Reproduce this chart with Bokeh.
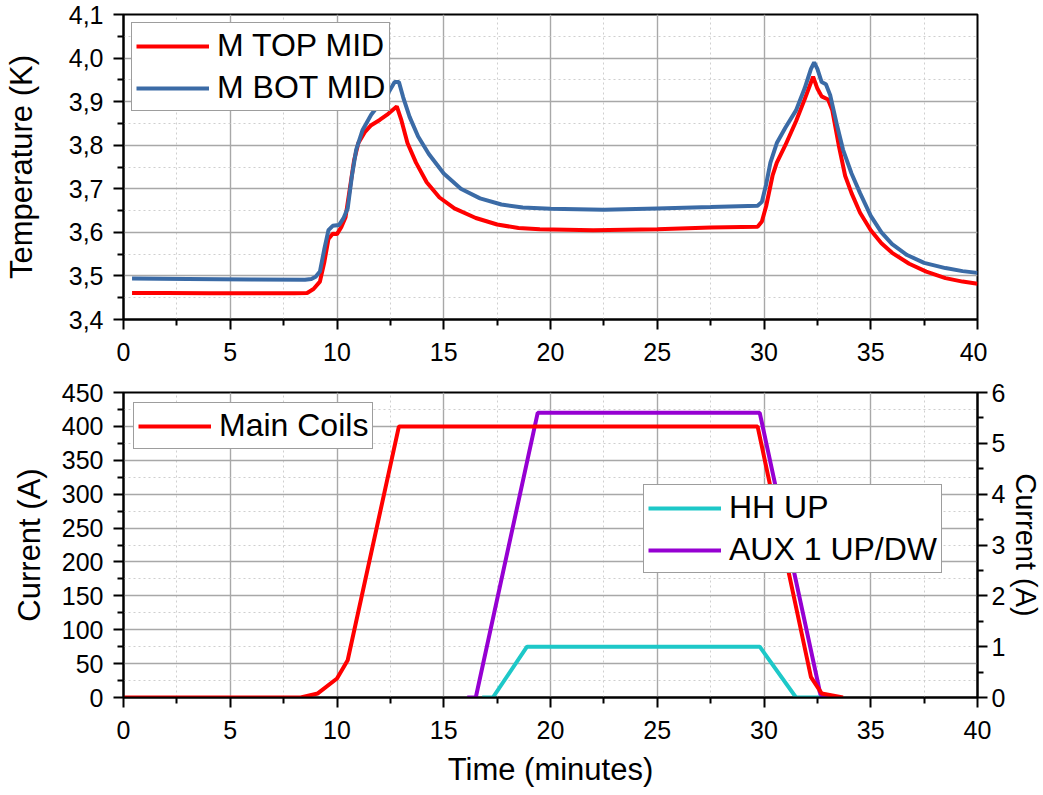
from bokeh.plotting import figure
from bokeh.models import (Range1d, LinearAxis, FixedTicker, CustomJSTickFormatter,
                          Legend, LegendItem)
from bokeh.layouts import column
from bokeh.embed import file_html
from bokeh.resources import INLINE

FONT = "Liberation Sans"

# ---------------- data ----------------
# Top panel: temperatures (K) vs time (minutes)
top_mid_time = [0.4, 2, 4, 6, 8, 8.6, 8.9, 9.2, 9.4, 9.6, 9.8, 10.0, 10.2, 10.4, 10.6, 10.8,
                11.0, 11.3, 11.6, 12.0, 12.4, 12.8, 13.0, 13.3, 13.7, 14.2, 14.8, 15.5,
                16.5, 17.5, 18.5, 19.5, 22, 25, 27.5, 29.7, 29.9, 30.1, 30.4, 30.6, 31.0,
                31.5, 31.9, 32.3, 32.5, 32.7, 33.0, 33.2, 33.5, 33.8, 34.1, 34.5, 35.0,
                35.5, 36.0, 36.8, 37.6, 38.5, 39.3, 40]
top_mid_temp = [3.461, 3.461, 3.460, 3.460, 3.460, 3.461, 3.470, 3.487, 3.53, 3.585, 3.597,
                3.596, 3.612, 3.635, 3.70, 3.765, 3.805, 3.830, 3.846, 3.858, 3.872, 3.889,
                3.860, 3.805, 3.76, 3.715, 3.68, 3.655, 3.633, 3.618, 3.610, 3.607, 3.605,
                3.607, 3.611, 3.613, 3.625, 3.66, 3.73, 3.76, 3.80, 3.855, 3.905, 3.957,
                3.93, 3.912, 3.905, 3.88, 3.80, 3.73, 3.69, 3.645, 3.605, 3.575, 3.553,
                3.528, 3.510, 3.495, 3.487, 3.482]

bot_mid_time = [0.4, 3, 6, 8.5, 8.8, 9.0, 9.2, 9.4, 9.6, 9.8, 10.1, 10.3, 10.5, 10.7, 10.9,
                11.2, 11.6, 12.0, 12.4, 12.7, 12.9, 13.1, 13.4, 13.8, 14.3, 15.0, 15.8,
                16.7, 17.7, 18.7, 20, 22.5, 25, 27.5, 29.7, 29.9, 30.1, 30.3, 30.6, 31.0,
                31.5, 31.9, 32.2, 32.35, 32.5, 32.7, 32.9, 33.1, 33.4, 33.7, 34.1, 34.5,
                35.0, 35.5, 36.0, 36.7, 37.5, 38.5, 39.3, 40]
bot_mid_temp = [3.494, 3.493, 3.492, 3.491, 3.493, 3.498, 3.51, 3.56, 3.605, 3.615, 3.617,
                3.632, 3.655, 3.73, 3.79, 3.835, 3.87, 3.895, 3.92, 3.945, 3.945, 3.91,
                3.865, 3.82, 3.78, 3.735, 3.70, 3.678, 3.664, 3.657, 3.654, 3.652, 3.655,
                3.658, 3.661, 3.67, 3.71, 3.76, 3.805, 3.84, 3.88, 3.93, 3.975, 3.99,
                3.975, 3.945, 3.94, 3.915, 3.85, 3.79, 3.735, 3.69, 3.638, 3.60, 3.573,
                3.548, 3.530, 3.518, 3.511, 3.507]

# Bottom panel: currents
coil_time = [0, 8.3, 9.1, 10.0, 10.5, 12.9, 29.7, 32.2, 32.7, 33.7]
coil_current = [0, 0, 6, 28, 55, 400, 400, 30, 6, 0]

hh_time = [16.8, 17.3, 18.9, 29.8, 31.5, 32.6]
hh_current = [0, 0, 1.0, 1.0, 0, 0]

aux_time = [16.1, 16.5, 19.4, 29.8, 32.65, 33.0]
aux_current = [0, 0, 5.6, 5.6, 0.05, 0]

# ticks
x_major = [0, 5, 10, 15, 20, 25, 30, 35, 40]
x_minor = [2.5, 7.5, 12.5, 17.5, 22.5, 27.5, 32.5, 37.5]
t_major = [3.4, 3.5, 3.6, 3.7, 3.8, 3.9, 4.0, 4.1]
t_minor = [3.45, 3.55, 3.65, 3.75, 3.85, 3.95, 4.05]
a_major = [0, 50, 100, 150, 200, 250, 300, 350, 400, 450]
a_minor = [25, 75, 125, 175, 225, 275, 325, 375, 425]
r_major = [0, 1, 2, 3, 4, 5, 6]
r_minor = [0.5, 1.5, 2.5, 3.5, 4.5, 5.5]

RED = "#FF0000"
BLUE = "#3B6BA6"
CYAN = "#1DC8C8"
PURPLE = "#9600D2"


def style_axis(ax, standoff_label, standoff_axis, label_size="31px"):
    ax.axis_line_color = "black"
    ax.axis_line_width = 2
    ax.major_tick_line_color = "black"
    ax.major_tick_line_width = 2
    ax.major_tick_out = 10
    ax.major_tick_in = 0
    ax.minor_tick_line_color = "black"
    ax.minor_tick_line_width = 2
    ax.minor_tick_out = 6
    ax.minor_tick_in = 0
    ax.major_label_text_font = FONT
    ax.major_label_text_font_size = "25px"
    ax.major_label_text_color = "black"
    ax.major_label_standoff = standoff_label
    ax.axis_label_text_font = FONT
    ax.axis_label_text_font_size = label_size
    ax.axis_label_text_font_style = "normal"
    ax.axis_label_text_color = "black"
    ax.axis_label_standoff = standoff_axis


def style_grid(g):
    g.grid_line_color = "#a8a8a8"
    g.grid_line_width = 1.4
    g.minor_grid_line_color = "#cfcfcf"
    g.minor_grid_line_width = 1
    g.minor_grid_line_dash = "2 3"


def style_legend(leg):
    leg.label_text_font = FONT
    leg.label_text_font_size = "32px"
    leg.label_text_color = "black"
    leg.glyph_width = 73
    leg.glyph_height = 36
    leg.label_height = 36
    leg.label_standoff = 8
    leg.padding = 4
    leg.spacing = 5
    leg.border_line_color = "#3c3c3c"
    leg.border_line_width = 1
    leg.background_fill_color = "white"
    leg.background_fill_alpha = 1.0


# ---------------- top figure ----------------
p1 = figure(frame_width=854, frame_height=305, output_backend="svg", toolbar_location=None,
            x_range=Range1d(0, 40), y_range=Range1d(3.4, 4.1),
            min_border_left=123, min_border_right=10, min_border_top=14, min_border_bottom=55)
p1.outline_line_color = "black"
p1.outline_line_width = 2
p1.background_fill_color = "white"
p1.border_fill_color = "white"

p1.xaxis.ticker = FixedTicker(ticks=x_major, minor_ticks=x_minor)
p1.yaxis.ticker = FixedTicker(ticks=t_major, minor_ticks=t_minor)
p1.xgrid.ticker = FixedTicker(ticks=x_major, minor_ticks=x_minor)
p1.ygrid.ticker = FixedTicker(ticks=t_major, minor_ticks=t_minor)
p1.yaxis.formatter = CustomJSTickFormatter(code="return tick.toFixed(1).replace('.', ',');")
p1.yaxis.axis_label = "Temperature (K)"
style_axis(p1.xaxis[0], 13, 6)
style_axis(p1.yaxis[0], 10, 27)
style_grid(p1.xgrid[0])
style_grid(p1.ygrid[0])

r_top = p1.line(top_mid_time, top_mid_temp, line_color=RED, line_width=4)
r_bot = p1.line(bot_mid_time, bot_mid_temp, line_color=BLUE, line_width=4)

leg1 = Legend(items=[LegendItem(label="M TOP MID", renderers=[r_top]),
                     LegendItem(label="M BOT MID", renderers=[r_bot])],
              location="top_left", margin=8)
style_legend(leg1)
p1.add_layout(leg1, "center")

# ---------------- bottom figure ----------------
p2 = figure(frame_width=854, frame_height=305, output_backend="svg", toolbar_location=None,
            x_range=Range1d(0, 40), y_range=Range1d(0, 450),
            min_border_left=123, min_border_right=40, min_border_top=18, min_border_bottom=98)
p2.outline_line_color = "black"
p2.outline_line_width = 2
p2.background_fill_color = "white"
p2.border_fill_color = "white"
p2.extra_y_ranges = {"right": Range1d(0, 6)}

p2.xaxis.ticker = FixedTicker(ticks=x_major, minor_ticks=x_minor)
p2.yaxis.ticker = FixedTicker(ticks=a_major, minor_ticks=a_minor)
p2.xgrid.ticker = FixedTicker(ticks=x_major, minor_ticks=x_minor)
p2.ygrid.ticker = FixedTicker(ticks=a_major, minor_ticks=a_minor)
p2.xaxis.axis_label = "Time (minutes)"
p2.yaxis.axis_label = "Current (A)"
style_axis(p2.xaxis[0], 13, 10)
style_axis(p2.yaxis[0], 10, 12)
style_grid(p2.xgrid[0])
style_grid(p2.ygrid[0])

right_ax = LinearAxis(y_range_name="right", axis_label="Current (A)",
                      ticker=FixedTicker(ticks=r_major, minor_ticks=r_minor))
style_axis(right_ax, 4, 2, label_size="29px")
p2.add_layout(right_ax, "right")

r_aux = p2.line(aux_time, aux_current, y_range_name="right", line_color=PURPLE, line_width=4)
r_hh = p2.line(hh_time, hh_current, y_range_name="right", line_color=CYAN, line_width=4)
r_coil = p2.line(coil_time, coil_current, line_color=RED, line_width=4)

leg2 = Legend(items=[LegendItem(label="Main Coils", renderers=[r_coil])],
              location="top_left", margin=10)
style_legend(leg2)
p2.add_layout(leg2, "center")

leg3 = Legend(items=[LegendItem(label="HH UP", renderers=[r_hh]),
                     LegendItem(label="AUX 1 UP/DW", renderers=[r_aux])],
              location=(520, 124))
style_legend(leg3)
p2.add_layout(leg3, "center")

layout = column(p1, p2, spacing=0)

open("out.html", "w").write(file_html(layout, INLINE))
